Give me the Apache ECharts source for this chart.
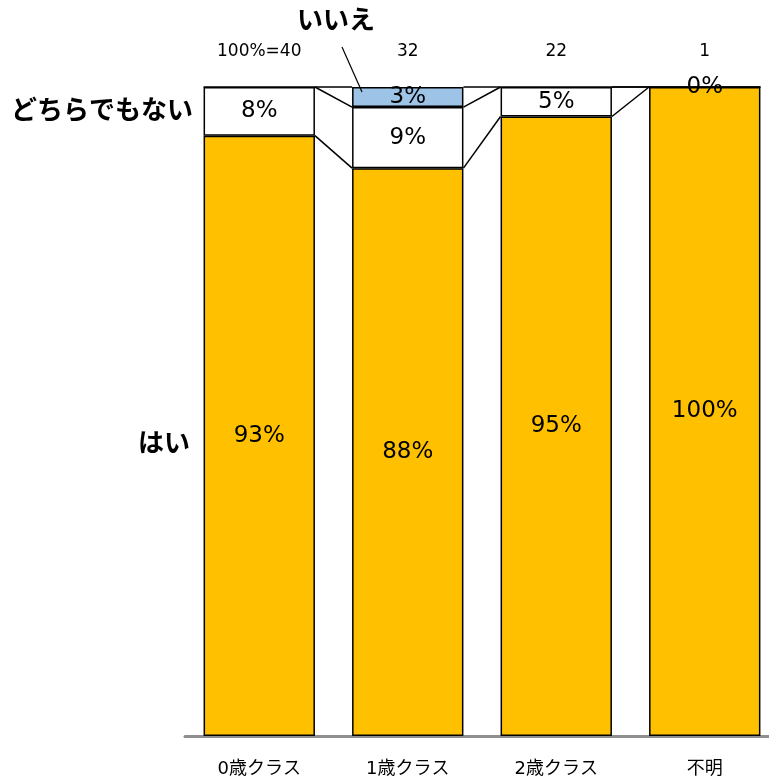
<!DOCTYPE html>
<html>
<head>
<meta charset="utf-8">
<script src="https://cdn.jsdelivr.net/npm/echarts@6/dist/echarts.min.js"></script>
<style>
  html, body { margin: 0; padding: 0; background: #fff; }
  #chart { width: 769px; height: 782px; }
</style>
</head>
<body>
<div id="chart"></div>
<script>
const FONT = '"DejaVu Sans", "Noto Sans CJK JP", sans-serif';
const JP_FONT = '"Noto Sans CJK JP", sans-serif';

const categories = ["0歳クラス", "1歳クラス", "2歳クラス", "不明"];
const totals = ["100%=40", "32", "22", "1"];
const yes = [92.5, 87.5, 95.45, 100];
const neutral = [7.5, 9.4, 4.55, 0];
const no = [0, 3.1, 0, 0];

const COLORS = { yes: "#FFC000", neutral: "#FFFFFF", no: "#9DC3E6" };
const BAR_RATIO = 0.75;

// cumulative tops for each stack level, used by the connector lines
const levels = [yes, neutral, no].reduce((acc, arr) => {
  const prev = acc.length ? acc[acc.length - 1] : arr.map(() => 0);
  acc.push(arr.map((v, i) => prev[i] + v));
  return acc;
}, []);

const connectorData = [];
levels.forEach((lv) => {
  for (let i = 0; i < lv.length - 1; i++) connectorData.push([i, lv[i], lv[i + 1]]);
});

const chart = echarts.init(document.getElementById("chart"), null, { renderer: "canvas" });

const pct = (hideZero) => (p) => (hideZero && p.value === 0 ? "" : Math.round(p.value) + "%");

function barSeries(name, data, color, hideZero) {
  return {
    name,
    type: "bar",
    stack: "all",
    data,
    barCategoryGap: "25%",
    itemStyle: { color, borderColor: "#000", borderWidth: 1.5 },
    label: {
      show: true,
      position: "inside",
      color: "#000",
      fontFamily: FONT,
      fontSize: 23,
      formatter: pct(hideZero),
    },
    emphasis: { disabled: true },
    z: 3,
  };
}

chart.setOption({
  animation: false,
  grid: { left: 185, width: 594, top: 87, bottom: 46, outerBoundsMode: "none", containLabel: false },
  xAxis: [
    {
      type: "category",
      data: categories,
      axisLine: { lineStyle: { color: "#8f8f8f", width: 3 } },
      axisTick: { show: false },
      axisLabel: { color: "#000", fontFamily: FONT, fontSize: 18, margin: 24 },
    },
    {
      type: "category",
      position: "top",
      data: totals,
      axisLine: { show: false },
      axisTick: { show: false },
      axisLabel: { color: "#000", fontFamily: FONT, fontSize: 17, margin: 27 },
    },
  ],
  yAxis: { type: "value", min: 0, max: 100, show: false },
  series: [
    barSeries("はい", yes, COLORS.yes, false),
    barSeries("どちらでもない", neutral, COLORS.neutral, false),
    barSeries("いいえ", no, COLORS.no, true),
    {
      type: "custom",
      data: connectorData,
      z: 2,
      silent: true,
      renderItem: (params, api) => {
        const i = api.value(0);
        const p1 = api.coord([i, api.value(1)]);
        const p2 = api.coord([i + 1, api.value(2)]);
        const half = (api.size([1, 0])[0] * BAR_RATIO) / 2;
        return {
          type: "line",
          shape: { x1: p1[0] + half, y1: p1[1], x2: p2[0] - half, y2: p2[1] },
          style: { stroke: "#000", lineWidth: 1.5 },
        };
      },
    },
  ],
  graphic: [
    { type: "text", right: 769 - 193, top: 96, style: { text: "どちらでもない", font: "bold 26px " + JP_FONT, fill: "#000" } },
    { type: "text", right: 769 - 190, top: 429, style: { text: "はい", font: "bold 26px " + JP_FONT, fill: "#000" } },
    { type: "text", left: 297, top: 6, style: { text: "いいえ", font: "bold 26px " + JP_FONT, fill: "#000" } },
    { type: "line", shape: { x1: 342, y1: 47, x2: 362, y2: 92 }, style: { stroke: "#000", lineWidth: 1.2 }, z: 10 },
  ],
});
</script>
</body>
</html>
